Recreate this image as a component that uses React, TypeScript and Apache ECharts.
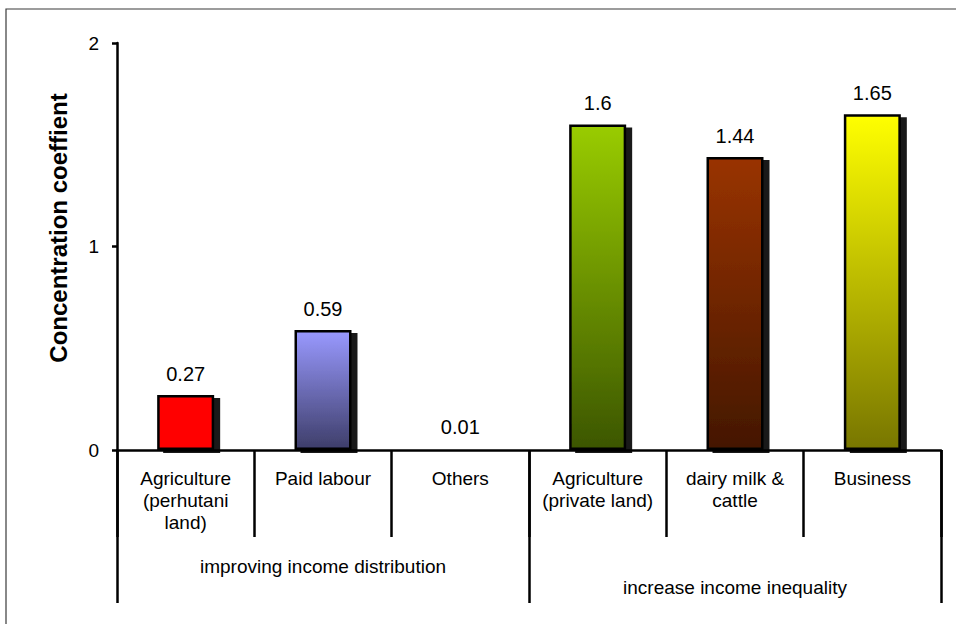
import React, { useEffect, useRef } from "react";
import * as echarts from "echarts";

const categories = [
  "Agriculture\n(perhutani\nland)",
  "Paid labour",
  "Others",
  "Agriculture\n(private land)",
  "dairy milk &\ncattle",
  "Business",
];
const values = [0.27, 0.59, 0.01, 1.6, 1.44, 1.65];
const groups = ["improving income distribution", "increase income inequality"];
const yTicks = [0, 1, 2];
const yTitle = "Concentration coeffient";

const barColors: [string, string][] = [
  ["#FF0000", "#FF0000"],
  ["#9999FF", "#3E3E6A"],
  ["#7F7F7F", "#404040"],
  ["#99CC00", "#3C5600"],
  ["#993300", "#441700"],
  ["#FFFF00", "#787600"],
];

const FONT = "'Liberation Sans', Arial, Helvetica, sans-serif";

export default function App() {
  const ref = useRef<HTMLDivElement>(null);
  useEffect(() => {
    if (!ref.current) return;
    const chart = echarts.init(ref.current, undefined, { renderer: "svg" });
    const data = values.map((v, i) => ({
      value: v,
      itemStyle: {
        color:
          barColors[i][0] === barColors[i][1]
            ? barColors[i][0]
            : new echarts.graphic.LinearGradient(0, 0, 0, 1, [
                { offset: 0, color: barColors[i][0] },
                { offset: 1, color: barColors[i][1] },
              ]),
      },
    }));
    chart.setOption({
      animation: false,
      backgroundColor: "#ffffff",
      grid: { left: 117, right: 15, top: 43, bottom: 174, containLabel: false },
      graphic: [
        {
          type: "rect",
          shape: { x: 6, y: 9, width: 1000, height: 700 },
          style: { fill: "none", stroke: "#3a3a3a", lineWidth: 1.2 },
          silent: true,
          z: -10,
        },
        {
          type: "text",
          x: 58,
          y: 228,
          rotation: Math.PI / 2,
          style: {
            text: yTitle,
            fontSize: 24,
            fontWeight: "bold",
            fontFamily: FONT,
            fill: "#000",
            align: "center",
            verticalAlign: "middle",
          },
        },
      ],
      xAxis: [
        {
          type: "category",
          data: categories,
          position: "bottom",
          axisLine: { show: true, onZero: false, lineStyle: { color: "#000", width: 2.5 } },
          axisTick: { show: true, length: 87, lineStyle: { color: "#000", width: 2.5 }, interval: 0 },
          axisLabel: {
            interval: 0,
            margin: 17,
            fontSize: 19,
            lineHeight: 22,
            fontFamily: FONT,
            color: "#000",
            verticalAlign: "top",
          },
          splitLine: { show: false },
        },
        {
          type: "category",
          data: groups,
          position: "bottom",
          axisLine: { show: false },
          axisTick: { show: true, length: 153, lineStyle: { color: "#000", width: 2.5 }, interval: 0 },
          axisLabel: {
            interval: 0,
            margin: 106,
            fontSize: 19,
            lineHeight: 21,
            fontFamily: FONT,
            color: "#000",
            verticalAlign: "top",
            formatter: (v: string, i: number) => (i === 1 ? "\n" + v : v),
          },
          splitLine: { show: false },
        },
      ],
      yAxis: {
        type: "value",
        min: yTicks[0],
        max: yTicks[yTicks.length - 1],
        interval: 1,
        axisLine: { show: true, lineStyle: { color: "#000", width: 2.5 } },
        axisTick: { show: true, length: 5, inside: false, lineStyle: { color: "#000", width: 2.5 } },
        axisLabel: { margin: 18, fontSize: 19, fontFamily: FONT, color: "#000" },
        splitLine: { show: false },
      },
      series: [
        {
          type: "bar",
          xAxisIndex: 0,
          data,
          barWidth: 57,
          itemStyle: {
            borderColor: "#000",
            borderWidth: 2.5,
            shadowColor: "rgba(0,0,0,0.9)",
            shadowOffsetX: 6,
            shadowOffsetY: 3,
            shadowBlur: 0,
          },
          label: {
            show: true,
            position: "top",
            distance: 11,
            fontSize: 20,
            fontFamily: FONT,
            color: "#000",
          },
        },
      ],
    });
    return () => chart.dispose();
  }, []);
  return (
    <div
      ref={ref}
      style={{ position: "absolute", left: 0, top: 0, width: 956, height: 624 }}
    />
  );
}
